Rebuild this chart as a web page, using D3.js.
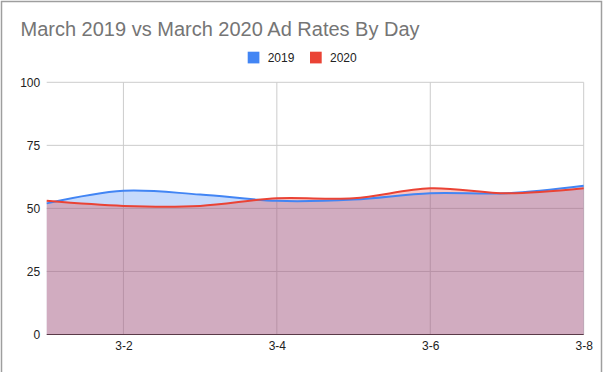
<!DOCTYPE html>
<html>
<head>
<meta charset="utf-8">
<script src="https://cdn.jsdelivr.net/npm/d3@7"></script>
<style>
  body { margin: 0; background: #fff; }
  svg { display: block; font-family: "Liberation Sans", Arial, sans-serif; }
</style>
</head>
<body>
<div id="chart"></div>
<script>
// chart data
const days = ['3-1', '3-2', '3-3', '3-4', '3-5', '3-6', '3-7', '3-8'];
const rates2019 = [52, 57, 55.5, 53, 53.5, 56, 56, 59];
const rates2020 = [53, 51, 51, 54, 54, 58, 56, 58];
const xTickLabels = ['3-2', '3-4', '3-6', '3-8'];
const yTicks = [0, 25, 50, 75, 100];

const series = [
  { name: '2019', values: rates2019, color: '#4285f4' },
  { name: '2020', values: rates2020, color: '#ea4335' }
];

var width = 603, height = 372;
var margin = { top: 82.3, right: 19.3, bottom: 37.5, left: 46.7 };

var svg = d3.select('#chart')
  .append('svg')
  .attr('width', width)
  .attr('height', height);

// frame (left, top, right)
svg.append('path')
  .attr('d', 'M1.5,' + height + 'V1.5H601.5V' + height)
  .attr('fill', 'none')
  .attr('stroke', '#9e9e9e')
  .attr('stroke-width', 1.5);

// title
svg.append('text')
  .attr('x', 20.5)
  .attr('y', 36)
  .style('font-size', '20px')
  .attr('fill', '#757575')
  .text('March 2019 vs March 2020 Ad Rates By Day');

// legend
var legend = svg.append('g');
var legendX = [247.7, 310];
series.forEach(function (s, i) {
  legend.append('rect')
    .attr('x', legendX[i])
    .attr('y', 51.7)
    .attr('width', 11.7)
    .attr('height', 11.7)
    .attr('fill', s.color);
  legend.append('text')
    .attr('x', legendX[i] + 20)
    .attr('y', 62)
    .style('font-size', '12px')
    .attr('fill', '#222')
    .text(s.name);
});

var x = d3.scaleLinear()
  .domain([0, days.length - 1])
  .range([margin.left, width - margin.right]);

var y = d3.scaleLinear()
  .domain([0, 100])
  .range([height - margin.bottom, margin.top]);

// horizontal grid
svg.append('g')
  .selectAll('line')
  .data(yTicks.filter(function (d) { return d > 0; }))
  .join('line')
  .attr('x1', x(0))
  .attr('x2', x(days.length - 1))
  .attr('y1', function (d) { return y(d); })
  .attr('y2', function (d) { return y(d); })
  .attr('stroke', '#cccccc');

// vertical grid
svg.append('g')
  .selectAll('line')
  .data(xTickLabels)
  .join('line')
  .attr('x1', function (d) { return x(days.indexOf(d)); })
  .attr('x2', function (d) { return x(days.indexOf(d)); })
  .attr('y1', y(100))
  .attr('y2', y(0))
  .attr('stroke', '#cccccc');

var curve = d3.curveCatmullRom.alpha(0);

var area = d3.area()
  .x(function (d, i) { return x(i); })
  .y0(y(0))
  .y1(function (d) { return y(d); })
  .curve(curve);

var line = d3.line()
  .x(function (d, i) { return x(i); })
  .y(function (d) { return y(d); })
  .curve(curve);

// areas
series.forEach(function (s) {
  svg.append('path')
    .datum(s.values)
    .attr('d', area)
    .attr('fill', s.color)
    .attr('fill-opacity', 0.3);
});

// lines
series.forEach(function (s) {
  svg.append('path')
    .datum(s.values)
    .attr('d', line)
    .attr('fill', 'none')
    .attr('stroke', s.color)
    .attr('stroke-width', 2);
});

// baseline
svg.append('line')
  .attr('x1', x(0))
  .attr('x2', x(days.length - 1))
  .attr('y1', y(0))
  .attr('y2', y(0))
  .attr('stroke', '#5a3a48')
  .attr('stroke-width', 1.2);

// Y axis labels
var yAxis = svg.append('g')
  .attr('transform', 'translate(' + (margin.left - 6.5) + ',0)')
  .call(d3.axisLeft(y).tickValues(yTicks).tickSize(0).tickPadding(0));
yAxis.select('.domain').remove();
yAxis.selectAll('text')
  .style('font-size', '12px')
  .style('font-family', '"Liberation Sans", Arial, sans-serif')
  .attr('fill', '#222');

// X axis labels
var xAxis = svg.append('g')
  .attr('transform', 'translate(0,' + (y(0) + 7) + ')')
  .call(d3.axisBottom(x)
    .tickValues(xTickLabels.map(function (d) { return days.indexOf(d); }))
    .tickFormat(function (i) { return days[i]; })
    .tickSize(0).tickPadding(0));
xAxis.select('.domain').remove();
xAxis.selectAll('text')
  .style('font-size', '12px')
  .style('font-family', '"Liberation Sans", Arial, sans-serif')
  .attr('fill', '#222');
</script>
</body>
</html>
